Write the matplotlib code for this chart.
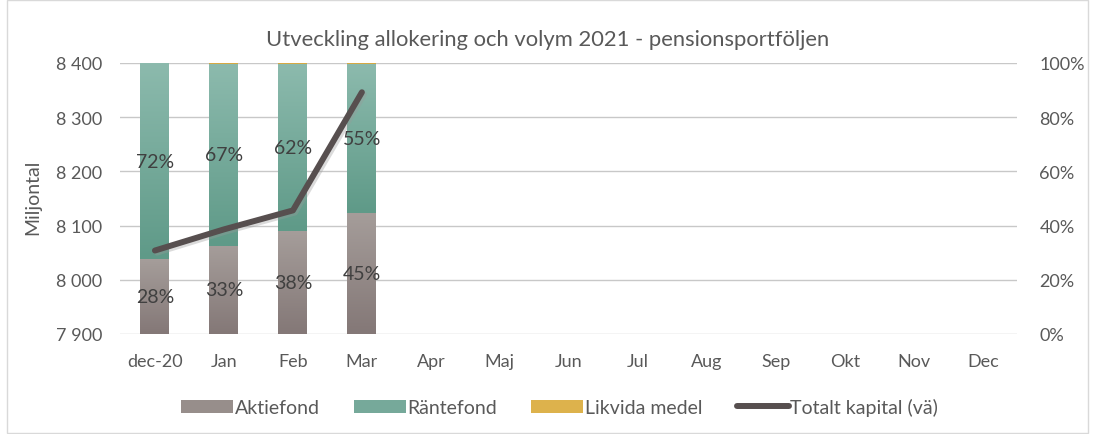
import matplotlib
matplotlib.use("Agg")
import matplotlib.pyplot as plt
import numpy as np
from matplotlib.colors import LinearSegmentedColormap
from matplotlib.patches import Patch, Rectangle
from matplotlib.lines import Line2D
import matplotlib.patheffects as pe

plt.rcParams['font.family'] = ['Lato', 'DejaVu Sans']

categories = ['dec-20', 'Jan', 'Feb', 'Mar', 'Apr', 'Maj', 'Jun', 'Jul', 'Aug', 'Sep', 'Okt', 'Nov', 'Dec']
aktiefond = [27.5, 32.6, 38.0, 44.7]
rantefond = [72.4, 67.0, 61.6, 54.9]
likvida = [0.1, 0.4, 0.4, 0.4]
totalt = [8054, 8093, 8128, 8346]
pct_ticks = [0, 20, 40, 60, 80, 100]
left_ticks = [7900, 8000, 8100, 8200, 8300, 8400]

title = 'Utveckling allokering och volym 2021 - pensionsportföljen'
txt = '#595959'
grid_c = '#c8c8c8'

fig = plt.figure(figsize=(10.95, 4.35), dpi=100)
fig.add_artist(Rectangle((0.006, 0.003), 0.988, 0.994, transform=fig.transFigure,
                         fill=False, edgecolor='#d9d9d9', linewidth=1.0, zorder=-5))

ax = fig.add_axes([0.110, 0.2299, 0.819, 0.623])
ax2 = ax.twinx()

x = np.arange(len(categories))
w = 0.42

for t in pct_ticks:
    ax2.axhline(t, color=grid_c, linewidth=1.0, zorder=1)

def grad(top, bottom):
    return LinearSegmentedColormap.from_list('g', [bottom, top])

series = [
    (aktiefond, grad('#a59d9a', '#847877')),
    (rantefond, grad('#8cbaad', '#5f9a88')),
    (likvida, grad('#e6bf5e', '#d1a23a')),
]
g = np.linspace(0, 1, 64).reshape(-1, 1)
bottoms = np.zeros(len(aktiefond))
for vals, cmap in series:
    for i, v in enumerate(vals):
        if v <= 0:
            continue
        b = bottoms[i]
        ax2.imshow(g, cmap=cmap, origin='lower', aspect='auto',
                   extent=[x[i] - w / 2, x[i] + w / 2, b, b + v], zorder=2,
                   interpolation='bilinear')
    bottoms = bottoms + np.array(vals)

for i in range(len(aktiefond)):
    ax2.text(x[i], aktiefond[i] / 2, f'{round(aktiefond[i]):d}%', ha='center', va='center',
             fontsize=14, color='#404040', zorder=5)
    ax2.text(x[i], aktiefond[i] + rantefond[i] / 2, f'{round(rantefond[i]):d}%', ha='center',
             va='center', fontsize=14, color='#404040', zorder=5)

ax2.set_ylim(0, 100)
ax2.set_yticks(pct_ticks)
ax2.set_yticklabels([f'{v}%' for v in pct_ticks])
ax2.patch.set_visible(False)

ax.set_zorder(ax2.get_zorder() + 1)
ax.patch.set_visible(False)
ax.plot(x[:len(totalt)], totalt, color='#574f4f', linewidth=4.3, solid_capstyle='round',
        solid_joinstyle='round', zorder=3,
        path_effects=[pe.SimpleLineShadow(offset=(1.5, -1.5), shadow_color='#999999', alpha=0.35),
                      pe.Normal()])
ax.set_ylim(7900, 8400)
ax.set_yticks(left_ticks)
ax.set_yticklabels([f'{v // 1000} {v % 1000:03d}' for v in left_ticks])
ax.set_xlim(-0.5, len(categories) - 0.5)
ax.set_xticks(x)
ax.set_xticklabels(categories)
ax2.set_xlim(-0.5, len(categories) - 0.5)

for a in (ax, ax2):
    for s in a.spines.values():
        s.set_visible(False)
    a.tick_params(axis='both', length=0, labelcolor=txt, labelsize=13)
ax.tick_params(axis='x', pad=14)
ax.tick_params(axis='y', pad=13)
ax2.tick_params(axis='y', pad=16)

fig.text(33 / 1095, 1 - 197 / 435, 'Miljontal', rotation=90, ha='center', va='center',
         fontsize=14, color=txt)
fig.text(0.5, 0.908, title, ha='center', va='center', fontsize=15.8, color=txt)

handles = [Patch(facecolor='#978e8b'), Patch(facecolor='#76a99a'), Patch(facecolor='#ddb24c'),
           Line2D([0], [0], color='#574f4f', linewidth=4.3, solid_capstyle='round')]
labels = ['Aktiefond', 'Räntefond', 'Likvida medel', 'Totalt kapital (vä)']
fig.legend(handles, labels, loc='center', bbox_to_anchor=(0.511, 0.062), ncol=4, frameon=False,
           fontsize=14, labelcolor=txt, handlelength=2.67, handleheight=0.62, columnspacing=1.75,
           handletextpad=0.1)

fig.savefig('out.png', dpi=100)
